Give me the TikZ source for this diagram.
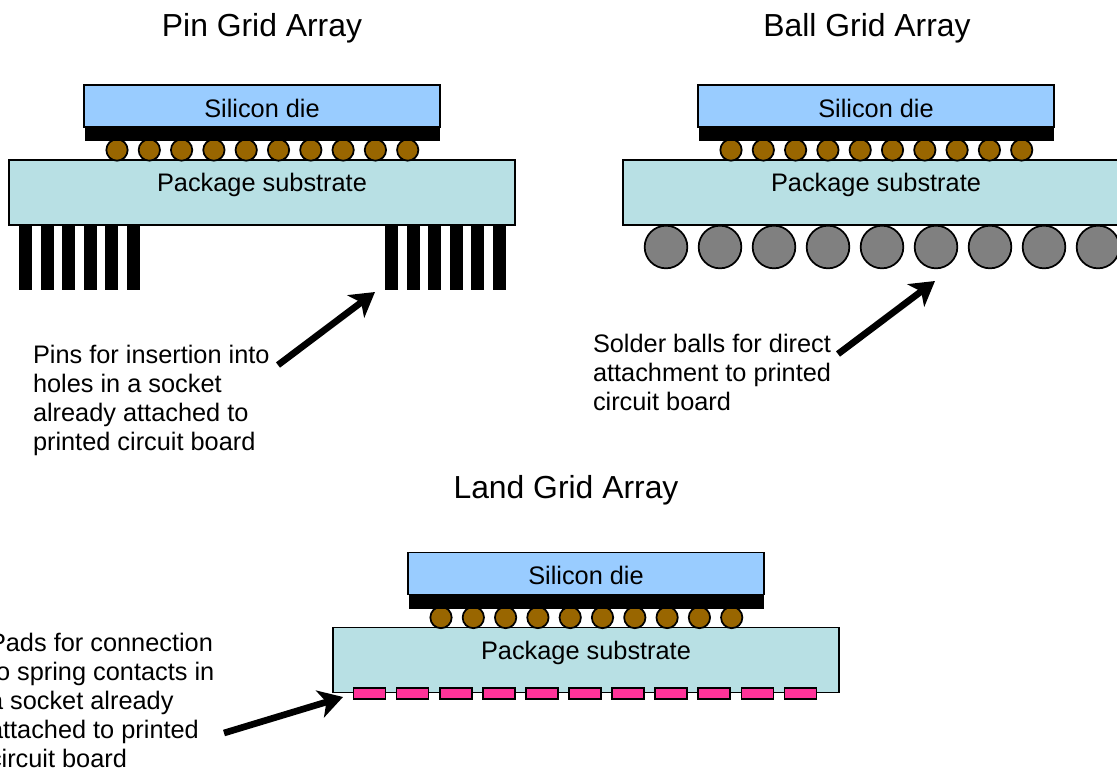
\documentclass[tikz,border=0pt]{standalone}
\usepackage{fontspec}
\setmainfont{Liberation Sans}
\usetikzlibrary{arrows.meta}

\definecolor{diecolor}{RGB}{153,204,255}
\definecolor{subcolor}{RGB}{184,224,228}
\definecolor{bumpcolor}{RGB}{153,102,0}
\definecolor{ballcolor}{RGB}{128,128,128}
\definecolor{padcolor}{RGB}{255,51,153}

\tikzset{
    every node/.style={inner sep=0pt, outer sep=0pt, font=\fontsize{19}{21.75}\selectfont},
    die/.style={draw, line width=1.3pt, fill=diecolor, minimum width=267pt, minimum height=31.5pt},
    diebar/.style={fill=black, minimum width=266.5pt, minimum height=10.5pt},
    substrate/.style={draw, line width=1.3pt, fill=subcolor, minimum width=379.5pt, minimum height=48.75pt},
    bump/.style={circle, draw, line width=1.3pt, fill=bumpcolor, minimum size=16pt},
    ball/.style={circle, draw, line width=1.3pt, fill=ballcolor, minimum size=32pt},
    pin/.style={fill=black, minimum width=9.75pt, minimum height=49.5pt},
    pad/.style={draw, line width=1.3pt, fill=padcolor, minimum width=24pt, minimum height=8.25pt},
    title/.style={font=\fontsize{23.9}{28}\selectfont},
    note/.style={align=left, anchor=north west},
    pointer/.style={line width=5pt, -{Stealth[length=18pt, width=21pt, inset=5pt]}},
    % die, bumps and substrate shared by the three packages
    chip/.pic={
        \node [substrate] (-sub) at (262,192.5) {};
        \node (-subtext) at (262,185) {Package substrate};
        \foreach \i in {0,...,9}
            \node [bump] (-bump\i) at (117+\i*32.3,150) {};
        \node [diebar] (-bar) at (262.5,134) {};
        \node [die] (-die) at (262,106) {};
        \node (-dietext) at (262,108) {Silicon die};
    }
}

\begin{document}
\begin{tikzpicture}[x=0.75pt, y=-0.75pt]
    \useasboundingbox (0,0) rectangle (1117,772);

    % Titles
    \node [title] (pgatitle) at (262,28)  {Pin Grid Array};
    \node [title] (bgatitle) at (867,28)  {Ball Grid Array};
    \node [title] (lgatitle) at (566,490) {Land Grid Array};

    % Pin Grid Array
    \foreach \i in {0,...,5} {
        \node [pin] (pinl\i) at (25.5+\i*21.5,257) {};
        \node [pin] (pinr\i) at (391.5+\i*21.5,257) {};
    }
    \pic (pga) at (0,0) {chip};
    \node [note] (pganote) at (33,345) {Pins for insertion into\\holes in a socket\\already attached to\\printed circuit board};
    \coordinate (pgafrom) at (278,365);
    \coordinate (pgato) at (375,292);
    \draw [pointer] (pgafrom) -- (pgato);

    % Ball Grid Array
    \foreach \i in {0,...,8}
        \node [ball] (ball\i) at (666+\i*54,247) {};
    \pic (bga) at (614,0) {chip};
    \node [note] (bganote) at (593,334) {Solder balls for direct\\attachment to printed\\circuit board};
    \coordinate (bgafrom) at (838,354);
    \coordinate (bgato) at (935,281);
    \draw [pointer] (bgafrom) -- (bgato);

    % Land Grid Array
    \pic (lga) at (324,467.5) {chip};
    \foreach \i in {0,...,10}
        \node [pad] (pad\i) at (369.5+\i*43.1,693.5) {};
    \node [note] (lganote) at (-11,633) {Pads for connection\\to spring contacts in\\a socket already\\attached to printed\\circuit board};
    \coordinate (lgafrom) at (224,733);
    \coordinate (lgato) at (343,697);
    \draw [pointer] (lgafrom) -- (lgato);

\end{tikzpicture}
\end{document}
